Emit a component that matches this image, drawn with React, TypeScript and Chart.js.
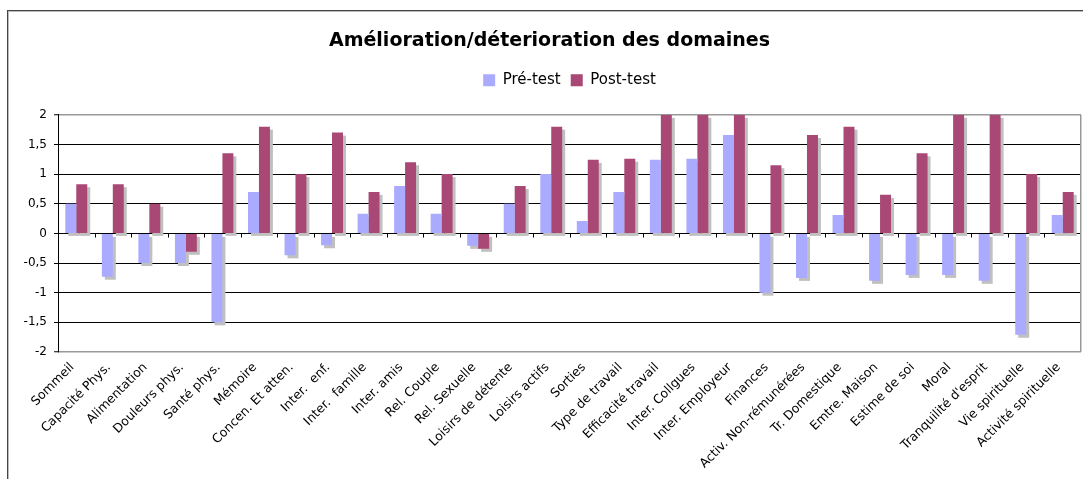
import React, { useEffect, useRef } from "react";
import { Chart, registerables } from "chart.js";

Chart.register(...registerables);

const TITLE = "Amélioration/déterioration des domaines";

const categories = [
  "Sommeil",
  "Capacité Phys.",
  "Alimentation",
  "Douleurs phys.",
  "Santé phys.",
  "Mémoire",
  "Concen. Et atten.",
  "Inter.  enf.",
  "Inter.  famille",
  "Inter. amis",
  "Rel. Couple",
  "Rel. Sexuelle",
  "Loisirs de détente",
  "Loisirs actifs",
  "Sorties",
  "Type de travail",
  "Efficacité travail",
  "Inter. Collgues",
  "Inter. Employeur",
  "Finances",
  "Activ. Non-rémunérées",
  "Tr. Domestique",
  "Emtre. Maison",
  "Estime de soi",
  "Moral",
  "Tranquilité d'esprit",
  "Vie spirituelle",
  "Activité spirituelle",
];

const preTest = [
  0.5, -0.73, -0.5, -0.5, -1.5, 0.7, -0.37, -0.2, 0.33, 0.8, 0.33, -0.21, 0.5, 1.0,
  0.21, 0.7, 1.24, 1.26, 1.66, -1.0, -0.75, 0.31, -0.8, -0.7, -0.7, -0.8, -1.71, 0.31,
];

const postTest = [
  0.83, 0.83, 0.5, -0.31, 1.35, 1.8, 1.0, 1.7, 0.7, 1.2, 1.0, -0.26, 0.8, 1.8,
  1.24, 1.26, 2.0, 2.0, 2.0, 1.15, 1.66, 1.8, 0.65, 1.35, 2.0, 2.0, 1.0, 0.7,
];

const seriesNames = ["Pré-test", "Post-test"];
const yTicks = { min: -2, max: 2, step: 0.5 };

const PRE_COLOR = "#AAAAFF";
const POST_COLOR = "#A94775";
const SHADOW_COLOR = "#C0C0C0";

const decorPlugin = {
  id: "decor",
  afterLayout(chart: any) {
    // Excel-like placement of the title and legend (slightly right of centre)
    if (chart.titleBlock) {
      chart.titleBlock.left += 9;
      chart.titleBlock.right += 9;
    }
    if (chart.legend) {
      chart.legend.left += 29;
      chart.legend.right += 29;
    }
  },
  beforeDraw(chart: any) {
    const ctx = chart.ctx;
    ctx.save();
    ctx.fillStyle = "#ffffff";
    ctx.fillRect(0, 0, chart.width, chart.height);
    ctx.lineWidth = 1;
    ctx.strokeStyle = "#444444";
    ctx.strokeRect(7.5, 10.5, chart.width + 50, chart.height + 50);
    ctx.strokeStyle = "#bbbbbb";
    ctx.strokeRect(8.5, 11.5, chart.width + 50, chart.height + 50);
    ctx.restore();
  },
  beforeDatasetsDraw(chart: any) {
    const ctx = chart.ctx;
    const area = chart.chartArea;
    const xs = chart.scales.x;
    const ys = chart.scales.y;
    ctx.save();
    ctx.strokeStyle = "#999999";
    ctx.lineWidth = 1.5;
    ctx.beginPath();
    ctx.moveTo(Math.round(area.right) - 0.25, area.top);
    ctx.lineTo(Math.round(area.right) - 0.25, area.bottom);
    ctx.stroke();
    const zero = Math.round(ys.getPixelForValue(0)) + 0.5;
    ctx.strokeStyle = "#000000";
    ctx.lineWidth = 1;
    ctx.beginPath();
    for (let i = 1; i < categories.length; i++) {
      const bx = Math.round((xs.getPixelForValue(i - 1) + xs.getPixelForValue(i)) / 2) + 0.5;
      ctx.moveTo(bx, zero);
      ctx.lineTo(bx, zero + 4);
    }
    ctx.stroke();
    ctx.fillStyle = SHADOW_COLOR;
    chart.data.datasets.forEach((_: any, di: number) => {
      const meta = chart.getDatasetMeta(di);
      meta.data.forEach((bar: any) => {
        const p = bar.getProps(["x", "y", "base", "width"], true);
        const left = p.x - p.width / 2;
        const top = Math.min(p.y, p.base);
        const h = Math.abs(p.y - p.base);
        ctx.fillRect(left + 3, top + 3, p.width, h);
      });
    });
    ctx.restore();
  },
};

export default function App() {
  const canvasRef = useRef<HTMLCanvasElement | null>(null);

  useEffect(() => {
    if (!canvasRef.current) return;
    Chart.defaults.font.family = "'DejaVu Sans', Verdana, sans-serif";
    Chart.defaults.color = "#000000";
    const chart = new Chart(canvasRef.current, {
      type: "bar",
      data: {
        labels: categories,
        datasets: [
          { label: seriesNames[0], data: preTest, backgroundColor: PRE_COLOR, borderWidth: 0 },
          { label: seriesNames[1], data: postTest, backgroundColor: POST_COLOR, borderWidth: 0 },
        ],
      },
      options: {
        responsive: false,
        animation: false,
        layout: { padding: { top: 0, left: 0, right: 2, bottom: 0 } },
        datasets: {
          bar: { categoryPercentage: 0.6, barPercentage: 1.0 },
        },
        plugins: {
          title: {
            display: true,
            text: TITLE,
            color: "#000000",
            font: { size: 19, weight: "bold", lineHeight: 1.2 },
            padding: { top: 30, bottom: 10 },
          },
          legend: {
            display: true,
            position: "top",
            labels: {
              boxWidth: 12,
              boxHeight: 12,
              padding: 10,
              color: "#000000",
              font: { size: 15 },
            },
          },
          tooltip: { enabled: false },
        },
        scales: {
          x: {
            type: "category",
            position: "bottom",
            grid: { display: false },
            border: { display: false },
            ticks: {
              autoSkip: false,
              maxRotation: 45,
              minRotation: 45,
              padding: 0,
              labelOffset: -4,
              font: { size: 12.5 },
              color: "#000000",
            },
            afterFit: (s: any) => {
              s.height = 127;
            },
          },
          xTop: {
            type: "category",
            position: "top",
            display: true,
            grid: { display: false },
            border: { display: false },
            ticks: { display: false },
            afterFit: (s: any) => {
              s.height = 17;
            },
          },
          y: {
            min: yTicks.min,
            max: yTicks.max,
            ticks: {
              stepSize: yTicks.step,
              font: { size: 12 },
              color: "#000000",
              padding: 7,
              callback: (v: any) => String(v).replace(".", ","),
            },
            grid: {
              color: (c: any) =>
                c.tick && (c.tick.value === yTicks.max || c.tick.value === yTicks.min)
                  ? "#999999"
                  : "#000000",
              lineWidth: (c: any) =>
                c.tick && (c.tick.value === yTicks.max || c.tick.value === yTicks.min) ? 1.5 : 1,
              tickLength: 4,
              tickColor: "#000000",
              tickWidth: 1,
            },
            border: { display: true, color: "#000000", width: 1 },
            afterFit: (s: any) => {
              s.width = 58;
            },
          },
        },
      },
      plugins: [decorPlugin],
    });
    return () => chart.destroy();
  }, []);

  return (
    <div style={{ position: "fixed", left: 0, top: 0, width: 1083, height: 479, background: "#fff" }}>
      <canvas ref={canvasRef} width={1083} height={479} style={{ display: "block" }} />
    </div>
  );
}
